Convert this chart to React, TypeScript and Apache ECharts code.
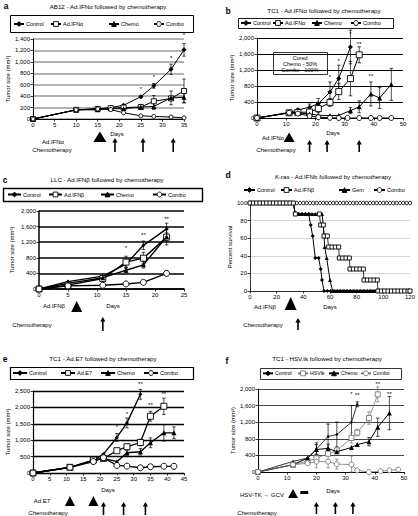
import React, { useEffect, useRef } from "react";
import * as echarts from "echarts";

const F = "'Liberation Sans', Arial, Helvetica, sans-serif";

// ---------- Panel a: AB12 ----------
const aDays = [0, 10, 15, 18, 21, 25, 28, 32, 35];
const aControl = [0, 160, 180, 200, 240, 390, 580, 870, 1210];
const aIFN = [0, 160, 175, 190, 200, 210, 310, 360, 490];
const aChemo = [0, 160, 160, 180, 180, 210, 220, 370, 380];
const aCombo = [0, 160, 175, 165, 110, 55, 45, 35, 20];
const aControlErr: [number, number][] = [[25, 20], [28, 40], [32, 90], [35, 110]];
const aIFNErr: [number, number][] = [[28, 100], [35, 210]];
const aChemoErr: [number, number][] = [[25, 45], [28, 55], [32, 120], [35, 90]];
const aComboErr: [number, number][] = [[25, 15], [28, 15], [32, 15], [35, 10]];
const aStars: [number, number, string][] = [[25, 520, "*"], [28, 730, "*"], [32, 1060, "*"], [35, 1470, "*"]];

// ---------- Panel b: TC1 Ad.IFNa ----------
const bControlDays = [0, 11, 14, 18, 21, 25, 28, 32];
const bControl = [0, 140, 200, 270, 360, 650, 990, 1775];
const bIFNDays = [0, 11, 14, 18, 21, 25, 28, 32, 35];
const bIFN = [0, 130, 140, 150, 235, 390, 660, 985, 1580];
const bChemoDays = [0, 11, 14, 18, 21, 25, 28, 32, 35, 39, 42, 46];
const bChemo = [0, 130, 130, 100, 70, 60, 65, 185, 280, 600, 500, 840];
const bComboDays = [0, 11, 14, 18, 21, 25, 28, 31, 35, 39, 42, 46];
const bCombo = [0, 130, 110, 50, 20, 5, 0, 0, 0, 0, 0, 0];
const bControlErr: [number, number][] = [[14, 40], [18, 80], [21, 130], [25, 250], [28, 330], [32, 420]];
const bIFNErr: [number, number][] = [[18, 50], [21, 100], [25, 100], [28, 200], [32, 430], [35, 200]];
const bChemoErr: [number, number][] = [[32, 80], [35, 150], [39, 300], [42, 260], [46, 400]];
const bStars: [number, number, string][] = [[25, 1020, "*"], [28, 1430, "*"], [32, 2110, "*"], [35, 1860, "**"], [39, 1040, "**"]];

// ---------- Panel c: LLC ----------
const cDays = [0, 5, 11, 15, 18, 22];
const cControl = [0, 190, 330, 640, 1120, 1540];
const cIFN = [0, 100, 270, 690, 790, 1330];
const cChemo = [0, 145, 290, 480, 620, 1340];
const cCombo = [0, 80, 95, 130, 170, 400];
const cControlErr: [number, number][] = [[15, 80], [18, 110], [22, 150]];
const cIFNErr: [number, number][] = [[15, 150], [18, 150], [22, 200]];
const cChemoErr: [number, number][] = [[15, 60], [18, 80], [22, 100]];
const cComboErr: [number, number][] = [[22, 60]];
const cStars: [number, number, string][] = [[15, 1040, "*"], [18, 1385, "**"], [22, 1795, "**"]];

// ---------- Panel d: K-ras survival ----------
const dControl: [number, number][] = [
  [0, 100], [2.5, 100], [5, 100], [7.5, 100], [10, 100], [12.5, 100], [15, 100], [17.5, 100], [20, 100], [22.5, 100],
  [25, 100], [27.5, 100], [30, 100], [32.5, 100], [34, 87.5], [36.5, 87.5], [39, 87.5], [41.5, 87.5], [44, 87.5],
  [45.5, 75], [47, 62.5], [49, 37.5], [51.5, 37.5], [53, 25], [54, 12.5], [55.5, 0], [58, 0], [60.5, 0], [63, 0],
  [65.5, 0], [68, 0], [70.5, 0], [73, 0], [75.5, 0], [78, 0], [80.5, 0], [83, 0], [85.5, 0], [88, 0], [90.5, 0],
  [93, 0], [95.5, 0], [98, 0], [100.5, 0], [103, 0], [105.5, 0], [108, 0], [110.5, 0], [113, 0], [115.5, 0], [118, 0], [120, 0],
];
const dIFN: [number, number][] = [
  [0, 100], [2.5, 100], [5, 100], [7.5, 100], [10, 100], [12.5, 100], [15, 100], [17.5, 100], [20, 100], [22.5, 100],
  [25, 100], [27.5, 100], [30, 100], [32.5, 100], [34, 87.5], [52, 87.5], [53, 75], [55, 75], [55.5, 62.5], [58, 62.5],
  [59, 50], [61.5, 50], [64, 50], [66.5, 50], [67, 37.5], [69.5, 37.5], [72, 37.5], [74.5, 37.5], [75, 25], [77.5, 25],
  [80, 25], [82.5, 25], [85, 25], [85.5, 12.5], [88, 12.5], [90.5, 12.5], [93, 12.5], [95.5, 12.5], [96, 0], [98.5, 0],
  [101, 0], [103.5, 0], [106, 0], [108.5, 0], [111, 0], [113.5, 0], [116, 0], [118.5, 0], [120, 0],
];
const dGem: [number, number][] = [
  [0, 100], [2.5, 100], [5, 100], [7.5, 100], [10, 100], [12.5, 100], [15, 100], [17.5, 100], [20, 100], [22.5, 100],
  [25, 100], [27.5, 100], [30, 100], [32.5, 100], [34, 87.5], [36.5, 87.5], [39, 87.5], [41.5, 87.5], [44, 87.5],
  [46.5, 87.5], [49, 87.5], [51.5, 87.5], [54, 87.5], [55, 75], [56, 50], [57.5, 37.5], [60, 12.5], [62, 0], [64.5, 0],
  [67, 0], [69.5, 0], [72, 0], [74.5, 0], [77, 0], [79.5, 0], [82, 0], [84.5, 0], [87, 0], [89.5, 0], [92, 0], [94.5, 0],
  [97, 0], [99.5, 0], [102, 0], [104.5, 0], [107, 0], [109.5, 0], [112, 0], [114.5, 0], [117, 0], [120, 0],
];
const dCombo: [number, number][] = [
  [0, 100], [2.5, 100], [5, 100], [7.5, 100], [10, 100], [12.5, 100], [15, 100], [17.5, 100], [20, 100], [22.5, 100],
  [25, 100], [27.5, 100], [30, 100], [32.5, 100], [35, 100], [37.5, 100], [40, 100], [42.5, 100], [45, 100], [47.5, 100],
  [50, 100], [52.5, 100], [55, 100], [57.5, 100], [60, 100], [62.5, 100], [65, 100], [67.5, 100], [70, 100], [72.5, 100],
  [75, 100], [77.5, 100], [80, 100], [82.5, 100], [85, 100], [87.5, 100], [90, 100], [92.5, 100], [95, 100], [97.5, 100],
  [100, 100], [102.5, 100], [105, 100], [107.5, 100], [110, 100], [112.5, 100], [115, 100], [117.5, 100], [120, 100],
];

// ---------- Panel e: TC1 Ad.E7 ----------
const eControlDays = [0, 11, 18, 21, 25, 28, 32];
const eControl = [0, 172, 375, 577, 1083, 1528, 2400];
const eE7Days = [0, 11, 18, 21, 25, 28, 32, 35, 39];
const eE7 = [0, 172, 395, 445, 680, 800, 930, 1730, 2035];
const eChemoDays = [0, 11, 18, 21, 25, 28, 32, 35, 39, 42];
const eChemo = [0, 172, 395, 445, 344, 617, 648, 921, 1225, 1225];
const eComboDays = [0, 11, 18, 21, 25, 28, 32, 35, 39, 42];
const eCombo = [0, 172, 350, 466, 230, 210, 160, 190, 205, 205];
const eControlErr: [number, number][] = [[18, 100], [25, 120], [28, 150], [32, 150]];
const eE7Err: [number, number][] = [[25, 60], [28, 80], [32, 100], [35, 150], [39, 250]];
const eChemoErr: [number, number][] = [[28, 80], [32, 100], [35, 150], [39, 250], [42, 180]];
const eComboErr: [number, number][] = [[21, 100], [25, 60], [42, 80]];
const eStars: [number, number, string][] = [[25, 1390, "*"], [28, 1810, "*"], [32, 2700, "**"], [35, 2065, "**"], [39, 2400, "**"]];

// ---------- Panel f: TC1 HSV.tk ----------
const fControlDays = [0, 12, 17, 20, 24, 27, 32, 34];
const fControl = [0, 256, 336, 552, 856, 904, 1200, 1632];
const fTkDays = [0, 12, 17, 20, 24, 27, 32, 34, 38, 41];
const fTk = [0, 176, 260, 330, 440, 520, 820, 950, 1300, 1870];
const fChemoDays = [0, 12, 17, 20, 24, 27, 32, 34, 38, 41, 45];
const fChemo = [0, 176, 336, 540, 570, 490, 590, 660, 730, 1080, 1420];
const fComboDays = [0, 12, 17, 20, 24, 27, 32, 34, 38, 42, 45, 48];
const fCombo = [0, 176, 210, 250, 250, 190, 180, 40, 0, 20, 40, 60];
const fControlErr: [number, number][] = [[20, 150], [24, 300], [27, 300], [32, 400], [34, 60]];
const fTkErr: [number, number][] = [[20, 100], [32, 120], [34, 80], [38, 150], [41, 180]];
const fChemoErr: [number, number][] = [[20, 120], [24, 100], [38, 100], [41, 220], [45, 400]];
const fComboErr: [number, number][] = [[20, 150], [24, 150], [27, 120], [32, 200]];
const fStars: [number, number, string][] = [[32, 1880, "*"], [34, 1860, "**"], [41, 2120, "**"], [45, 1880, "**"]];

// treatment markers (days)
const aVirus = [15.5], aChemoTx = [19, 25.5, 32.5];
const bVirus = [11], bChemoTx = [18, 24, 35];
const cVirus = [6.5], cChemoTx = [11];
const dVirus = [30.5], dChemoTx = [36];
const eVirus = [11, 18], eChemoTx = [21, 27, 33.5];
const fVirus = [12], fGcv = [14.5, 17.2], fChemoTx = [20, 26.5, 32.5];

type Ser = {
  name: string;
  data: [number, number][];
  sym: string;
  size: number;
  fill: string;
  stroke: string;
  lw: number;
  errs?: [number, number][];
};

const zip = (d: number[], v: number[]): [number, number][] => d.map((x, i) => [x, v[i]]);

const FILLED = (sym: string, size: number, lw: number, color = "#000") => ({ sym, size, fill: color, stroke: color, lw });
const OPEN = (sym: string, size: number, lw: number, color = "#000") => ({ sym, size, fill: "#fff", stroke: color, lw });

interface Panel {
  id: string;
  grid: { left: number; top: number; width: number; height: number };
  xMax: number; xInt: number; yMax: number; yInt: number;
  split: { color: string; width: number };
  axisW: number;
  yName: string; yGap: number;
  series: Ser[];
  stars: [number, number, string][];
}

const panels: Panel[] = [
  {
    id: "a", grid: { left: 33, top: 39, width: 151, height: 80 }, xMax: 35, xInt: 5, yMax: 1400, yInt: 200,
    split: { color: "#9a9a9a", width: 1.6 }, axisW: 1, yName: "Tumor size (mm³)", yGap: 20,
    series: [
      { name: "a|Control", data: zip(aDays, aControl), ...FILLED("diamond", 5, 1), errs: aControlErr },
      { name: "a|Ad.IFNα", data: zip(aDays, aIFN), ...OPEN("rect", 5, 1), errs: aIFNErr },
      { name: "a|Chemo", data: zip(aDays, aChemo), ...FILLED("triangle", 5, 1), errs: aChemoErr },
      { name: "a|Combo", data: zip(aDays, aCombo), ...OPEN("circle", 4, 1), errs: aComboErr },
    ],
    stars: aStars,
  },
  {
    id: "b", grid: { left: 257, top: 38, width: 146, height: 80 }, xMax: 50, xInt: 10, yMax: 2000, yInt: 400,
    split: { color: "#000", width: 1 }, axisW: 1, yName: "Tumor size (mm³)", yGap: 19,
    series: [
      { name: "b|Control", data: zip(bControlDays, bControl), ...FILLED("diamond", 5, 1), errs: bControlErr },
      { name: "b|Ad.IFNα", data: zip(bIFNDays, bIFN), ...OPEN("rect", 6, 1), errs: bIFNErr },
      { name: "b|Chemo", data: zip(bChemoDays, bChemo), ...FILLED("triangle", 5, 1), errs: bChemoErr },
      { name: "b|Combo", data: zip(bComboDays, bCombo), ...OPEN("circle", 5, 1) },
    ],
    stars: bStars,
  },
  {
    id: "c", grid: { left: 39, top: 211, width: 145, height: 78 }, xMax: 25, xInt: 5, yMax: 2000, yInt: 400,
    split: { color: "#000", width: 1.6 }, axisW: 1.5, yName: "Tumor size (mm³)", yGap: 24,
    series: [
      { name: "c|Control", data: zip(cDays, cControl), ...FILLED("diamond", 4, 1.4), errs: cControlErr },
      { name: "c|Ad.IFNβ", data: zip(cDays, cIFN), ...OPEN("rect", 6, 1.4), errs: cIFNErr },
      { name: "c|Chemo", data: zip(cDays, cChemo), ...FILLED("triangle", 5, 1.4), errs: cChemoErr },
      { name: "c|Combo", data: zip(cDays, cCombo), ...OPEN("circle", 6, 1.4), errs: cComboErr },
    ],
    stars: cStars,
  },
  {
    id: "d", grid: { left: 250, top: 203, width: 161, height: 88 }, xMax: 120, xInt: 20, yMax: 100, yInt: 20,
    split: { color: "#c4c4c4", width: 0.7 }, axisW: 0.8, yName: "Percent survival", yGap: 16,
    series: [
      { name: "d|Control", data: dControl, ...FILLED("diamond", 4, 1) },
      { name: "d|Combo", data: dCombo, ...OPEN("circle", 3.5, 0.8) },
      { name: "d|Gem", data: dGem, ...FILLED("triangle", 4, 1) },
      { name: "d|Ad.IFNβ", data: dIFN, ...OPEN("rect", 4, 0.8) },
    ],
    stars: [],
  },
  {
    id: "e", grid: { left: 33, top: 391, width: 151, height: 82 }, xMax: 45, xInt: 5, yMax: 2500, yInt: 500,
    split: { color: "#000", width: 1.4 }, axisW: 1.2, yName: "Tumor size (mm³)", yGap: 20,
    series: [
      { name: "e|Control", data: zip(eControlDays, eControl), ...FILLED("diamond", 4, 1.3), errs: eControlErr },
      { name: "e|Ad.E7", data: zip(eE7Days, eE7), ...OPEN("rect", 6, 1.3), errs: eE7Err },
      { name: "e|Chemo", data: zip(eChemoDays, eChemo), ...FILLED("triangle", 5, 1.3), errs: eChemoErr },
      { name: "e|Combo", data: zip(eComboDays, eCombo), ...OPEN("circle", 6, 1.3), errs: eComboErr },
    ],
    stars: eStars,
  },
  {
    id: "f", grid: { left: 258, top: 389, width: 146, height: 83 }, xMax: 50, xInt: 10, yMax: 2000, yInt: 400,
    split: { color: "#444", width: 1.2 }, axisW: 1, yName: "Tumor size (mm³)", yGap: 19,
    series: [
      { name: "f|Control", data: zip(fControlDays, fControl), ...FILLED("diamond", 3, 0.8), errs: fControlErr },
      { name: "f|HSVtk", data: zip(fTkDays, fTk), ...OPEN("rect", 5, 0.8, "#777"), errs: fTkErr },
      { name: "f|Chemo", data: zip(fChemoDays, fChemo), ...FILLED("triangle", 5, 1), errs: fChemoErr },
      { name: "f|Combo", data: zip(fComboDays, fCombo), ...OPEN("circle", 5, 0.8, "#777"), errs: fComboErr },
    ],
    stars: fStars,
  },
];

// legend layout: [series name, icon left px, center y, icon width, font size]
const legendItems: [string, number, number, number, number][] = [
  ["a|Control", 13, 24, 10, 5.5], ["a|Ad.IFNα", 50, 24, 10, 5.5], ["a|Chemo", 108, 24, 10, 5.5], ["a|Combo", 153, 24, 10, 5.5],
  ["b|Control", 240, 23, 10, 5.5], ["b|Ad.IFNα", 272, 23, 10, 5.5], ["b|Chemo", 311, 23, 10, 5.5], ["b|Combo", 350, 23, 10, 5.5],
  ["c|Control", 7, 194.5, 13, 5.5], ["c|Ad.IFNβ", 48, 194.5, 13, 5.5], ["c|Chemo", 100, 194.5, 13, 5.5], ["c|Combo", 152, 194.5, 13, 5.5],
  ["d|Control", 243, 190, 11, 5.5], ["d|Ad.IFNβ", 280, 190, 11, 5.5], ["d|Gem", 338, 190, 11, 5.5], ["d|Combo", 373, 190, 11, 5.5],
  ["e|Control", 12, 373, 14, 5.5], ["e|Ad.E7", 60, 373, 14, 5.5], ["e|Chemo", 100, 373, 14, 5.5], ["e|Combo", 143, 373, 14, 5.5],
  ["f|Control", 262, 373.5, 10, 5.2], ["f|HSVtk", 297, 373.5, 10, 5.2], ["f|Chemo", 328, 373.5, 10, 5.2], ["f|Combo", 360, 373.5, 10, 5.2],
];

const fmt = (v: number) => v.toLocaleString("en-US");

function buildOption(): any {
  const grids: any[] = [], xAxes: any[] = [], yAxes: any[] = [], series: any[] = [];
  panels.forEach((p, i) => {
    grids.push({ ...p.grid, containLabel: false });
    xAxes.push({
      type: "value", gridIndex: i, min: 0, max: p.xMax, interval: p.xInt,
      axisLine: { show: true, onZero: false, lineStyle: { color: "#000", width: p.axisW } },
      axisTick: { show: true, length: 2.5, lineStyle: { color: "#000", width: 0.8 } },
      axisLabel: { fontSize: 6, color: "#000", fontFamily: F, margin: 3 },
      splitLine: { show: false },
    });
    yAxes.push({
      type: "value", gridIndex: i, min: 0, max: p.yMax, interval: p.yInt,
      name: p.yName, nameLocation: "middle", nameGap: p.yGap,
      nameTextStyle: { fontSize: 6, color: "#000", fontFamily: F },
      axisLine: { show: true, lineStyle: { color: "#000", width: p.axisW } },
      axisTick: { show: true, length: 2.5, lineStyle: { color: "#000", width: 0.8 } },
      axisLabel: { fontSize: 6, color: "#000", fontFamily: F, margin: 3, formatter: fmt },
      splitLine: { show: true, lineStyle: { color: p.split.color, width: p.split.width } },
    });
    p.series.forEach((s, k) => {
      series.push({
        type: "line", name: s.name, xAxisIndex: i, yAxisIndex: i, data: s.data,
        symbol: s.sym, symbolSize: s.size, showSymbol: true, clip: false,
        lineStyle: { color: s.stroke, width: s.lw },
        itemStyle: { color: s.fill, borderColor: s.stroke, borderWidth: s.fill === "#fff" ? 0.9 : 0 },
        z: 3 + k,
      });
      if (s.errs && s.errs.length) {
        const errData = s.errs.map(([d, e]) => {
          const pt = s.data.find((q) => q[0] === d);
          const m = pt ? pt[1] : 0;
          return [d, Math.max(0, m - e), m + e];
        });
        series.push({
          type: "custom", name: s.name + "#err", xAxisIndex: i, yAxisIndex: i, data: errData, clip: false,
          encode: { x: 0, y: [1, 2] }, z: 2,
          renderItem: (_params: any, api: any) => {
            const x = api.value(0);
            const lo = api.coord([x, api.value(1)]);
            const hi = api.coord([x, api.value(2)]);
            const st = { stroke: s.stroke, lineWidth: 0.7 };
            return {
              type: "group",
              children: [
                { type: "line", shape: { x1: lo[0], y1: lo[1], x2: hi[0], y2: hi[1] }, style: st },
                { type: "line", shape: { x1: lo[0] - 1.8, y1: lo[1], x2: lo[0] + 1.8, y2: lo[1] }, style: st },
                { type: "line", shape: { x1: hi[0] - 1.8, y1: hi[1], x2: hi[0] + 1.8, y2: hi[1] }, style: st },
              ],
            };
          },
        });
      }
    });
    if (p.stars.length) {
      const st = p.stars;
      series.push({
        type: "custom", name: p.id + "#stars", xAxisIndex: i, yAxisIndex: i, clip: false,
        data: st.map((q) => [q[0], q[1]]), encode: { x: 0, y: 1 }, z: 10,
        renderItem: (params: any, api: any) => {
          const c = api.coord([api.value(0), api.value(1)]);
          return {
            type: "text", x: c[0], y: c[1],
            style: {
              text: st[params.dataIndex][2], fill: "#000", fontSize: 6, fontFamily: F,
              align: "center", verticalAlign: "middle", textAlign: "center", textVerticalAlign: "middle",
            },
          };
        },
      });
    }
  });

  const legends = legendItems.map(([name, left, cy, w, fs]) => ({
    show: true, data: [name], left, top: cy - 3, itemWidth: w, itemHeight: 6, padding: 0, itemGap: 0,
    selectedMode: false, formatter: (n: string) => n.split("|")[1],
    textStyle: { fontSize: fs, color: "#000", fontFamily: F, padding: [0, 0, 0, -3] },
    itemStyle: { borderWidth: 0.9 },
  }));

  return {
    animation: false,
    backgroundColor: "#fff",
    textStyle: { fontFamily: F },
    grid: grids, xAxis: xAxes, yAxis: yAxes, series, legend: legends,
  };
}

const T = (text: string, x: number, y: number, size = 6, bold = false, align = "center") => ({
  type: "text", x, y, silent: true,
  style: {
    text, fill: "#000", fontSize: size, fontFamily: F, fontWeight: bold ? "bold" : "normal",
    align, verticalAlign: "middle", textAlign: align, textVerticalAlign: "middle",
  },
});

const tri = (x: number, apex: number, base: number, hw: number) => ({
  type: "polygon", silent: true, shape: { points: [[x - hw, base], [x, apex], [x + hw, base]] }, style: { fill: "#000" },
});

const arrow = (x: number, top: number, bottom: number) => [
  { type: "line", silent: true, shape: { x1: x, y1: top + 3, x2: x, y2: bottom }, style: { stroke: "#000", lineWidth: 1.6 } },
  { type: "polygon", silent: true, shape: { points: [[x - 2.6, top + 4.5], [x, top], [x + 2.6, top + 4.5]] }, style: { fill: "#000" } },
];

const box = (x: number, y: number, w: number, h: number, lw = 1) => ({
  type: "rect", silent: true, shape: { x, y, width: w, height: h }, style: { fill: "none", stroke: "#000", lineWidth: lw }, z: -1,
});

function buildGraphics(chart: any): any[] {
  const px = (i: number, d: number) => chart.convertToPixel({ xAxisIndex: i }, d) as number;
  const g: any[] = [];
  // panel letters
  g.push(T("a", 6, 5.5, 8.5, true), T("b", 228, 10.5, 8.5, true), T("c", 5, 179.5, 8.5, true));
  g.push(T("d", 228, 174.5, 8.5, true), T("e", 5, 358.5, 8.5, true), T("f", 227, 360.5, 8.5, true));
  // titles
  g.push(T("AB12 - Ad.IFNα followed by chemotherapy", 108, 6, 6.2));
  g.push(T("TC1 - Ad.IFNα followed by chemotherapy", 324, 10, 6.2));
  g.push(T("LLC - Ad.IFNβ followed by chemotherapy", 107, 179, 6.2));
  g.push(T("K-ras - Ad.IFNb followed by chemotherapy", 333, 176, 6.2));
  g.push(T("TC1 - Ad.E7 followed by chemotherapy", 103, 358, 6.2));
  g.push(T("TC1 - HSV.tk followed by chemotherapy", 327, 358, 6.2));
  // legend boxes
  g.push(box(10.5, 15.5, 183, 17, 1), box(238.5, 18.5, 155, 10, 0.9), box(3.5, 188.5, 199, 13, 1.4));
  g.push(box(10.5, 367.5, 183, 12, 1.2), box(260.5, 368.5, 141, 11, 0.8));
  // cured box in b
  g.push(box(273.5, 52.5, 54, 22, 0.8));
  g.push(T("Cured", 300, 57.7, 5.6), T("Chemo - 50%", 300, 64.3, 5.6), T("Combo - 100%", 300, 69.5, 5.6));
  // axis captions
  g.push(T("Days", 117, 134), T("Ad.IFNα", 53, 142), T("Chemotherapy", 52, 150));
  g.push(T("Days", 333, 133), T("Ad.IFNα", 273, 137.5), T("Chemotherapy", 276, 150));
  g.push(T("Ad.IFNβ", 54, 306), T("Days", 113, 306), T("Chemotherapy", 32, 325));
  g.push(T("Ad.IFNβ", 265, 307), T("Days", 330, 307), T("Chemotherapy", 263, 325));
  g.push(T("Days", 108, 490), T("Ad.E7", 42, 501), T("Chemotherapy", 48, 513));
  g.push(T("Days", 333, 491), T("HSV-TK → GCV", 262, 495), T("Chemotherapy", 257, 513));
  // treatment triangles & arrows
  aVirus.forEach((d) => g.push(tri(px(0, d), 131.5, 142, 6.5)));
  aChemoTx.forEach((d) => g.push(...arrow(px(0, d), 138, 152)));
  bVirus.forEach((d) => g.push(tri(px(1, d), 132.5, 142, 5.5)));
  bChemoTx.forEach((d) => g.push(...arrow(px(1, d), 140, 152)));
  cVirus.forEach((d) => g.push(tri(px(2, d), 301, 312, 5.5)));
  cChemoTx.forEach((d) => g.push(...arrow(px(2, d), 317, 331)));
  dVirus.forEach((d) => g.push(tri(px(3, d), 297, 310, 6)));
  dChemoTx.forEach((d) => g.push(...arrow(px(3, d), 318, 330)));
  eVirus.forEach((d) => g.push(tri(px(4, d), 496, 506, 5)));
  eChemoTx.forEach((d) => g.push(...arrow(px(4, d), 502, 515)));
  fVirus.forEach((d) => g.push(tri(px(5, d), 489, 498, 5)));
  {
    const x1 = px(5, fGcv[0]), x2 = px(5, fGcv[1]);
    g.push({ type: "rect", silent: true, shape: { x: x1, y: 491, width: x2 - x1, height: 3 }, style: { fill: "#000" } });
  }
  fChemoTx.forEach((d) => g.push(...arrow(px(5, d), 502, 514)));
  return g;
}

export default function App() {
  const ref = useRef<HTMLDivElement>(null);
  useEffect(() => {
    if (!ref.current) return;
    const chart = echarts.init(ref.current, null, { renderer: "svg", width: 418, height: 516 });
    chart.setOption(buildOption());
    chart.setOption({ graphic: { elements: buildGraphics(chart) } });
    return () => chart.dispose();
  }, []);
  return <div ref={ref} style={{ position: "absolute", left: 0, top: 0, width: 418, height: 516, background: "#fff" }} />;
}
